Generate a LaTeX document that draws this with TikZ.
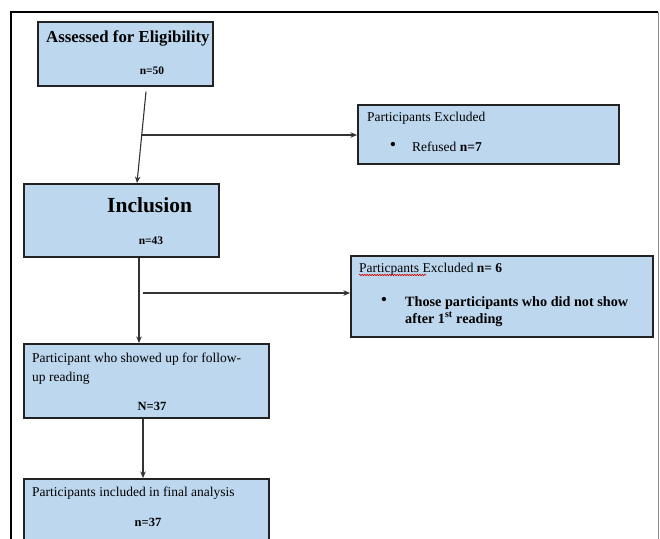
\documentclass[tikz,border=0pt]{standalone}
\usepackage{fontspec}
\setmainfont{Liberation Serif}
\usetikzlibrary{arrows.meta,calc,decorations.pathmorphing}
\definecolor{boxblue}{HTML}{BDD7EE}
\definecolor{boxline}{HTML}{222222}
\definecolor{arrline}{HTML}{333333}
\tikzset{
  box/.style={draw=boxline, line width=1.7pt, fill=boxblue, anchor=north west, inner sep=0pt},
  arr/.style={draw=arrline, line width=1.1pt, -{Stealth[length=6.5pt,width=5.5pt]}},
  txt/.style={anchor=base west, inner sep=0pt, text=black},
  ctxt/.style={anchor=base, inner sep=0pt, text=black},
  small/.style={font=\fontsize{13.5}{15}\selectfont},
  bul/.style={anchor=center, inner sep=0pt, text=black, font=\fontsize{18}{18}\selectfont},
  squiggle/.style={draw=red!80!black, line width=0.6pt, decorate, decoration={snake, amplitude=0.7pt, segment length=2.5pt}},
}
\begin{document}
\begin{tikzpicture}[x=1pt,y=-1pt]
\clip (0,0) rectangle (660,538);
\fill[white] (0,0) rectangle (660,538);
% outer frame
\draw[black, line width=1.8pt] (11,540) -- (11,12) -- (658,12);
\draw[black!45, line width=0.8pt] (658,12) -- (658,540);

% boxes
\node[box, minimum width=175pt, minimum height=64pt] (b1) at (37,21) {};
\node[box, minimum width=261pt, minimum height=59pt] (b2) at (357,104) {};
\node[box, minimum width=195pt, minimum height=73pt] (b3) at (23,183) {};
\node[box, minimum width=302pt, minimum height=81pt] (b5) at (350,255) {};
\node[box, minimum width=245pt, minimum height=74pt] (b4) at (23,343) {};
\node[box, minimum width=245pt, minimum height=80pt] (b6) at (23,478) {};

% texts
\node[txt, font=\bfseries\fontsize{16.8}{18}\selectfont] (t1) at (46,42) {Assessed for Eligibility};
\node[ctxt, font=\bfseries\fontsize{11.5}{12}\selectfont] (t1n) at (152,74) {n=50};

\node[txt, small] (t2) at (367,121) {Participants Excluded};
\node[bul] (t2b) at (393,146.5) {\textbullet};
\node[txt, small] (t2c) at (412,151) {Refused \textbf{n=7}};

\node[txt, font=\bfseries\fontsize{21.5}{23}\selectfont] (t3) at (107,212) {Inclusion};
\node[ctxt, font=\bfseries\fontsize{11.5}{12}\selectfont] (t3n) at (151,244) {n=43};

\node[txt, small] (t5) at (359,272) {Particpants Excluded \textbf{n= 6}};
\draw[squiggle] (359,275) -- (426,275);
\node[bul] (t5b) at (384,301.5) {\textbullet};
\node[txt, font=\bfseries\fontsize{14.2}{16}\selectfont] (t5c) at (405,306) {Those participants who did not show};
\node[txt, font=\bfseries\fontsize{14.2}{16}\selectfont] (t5d) at (405,323) {after 1\textsuperscript{st} reading};

\node[txt, small] (t4) at (32,362) {Participant who showed up for follow-};
\node[txt, small] (t4b) at (32,381) {up reading};
\node[ctxt, font=\bfseries\fontsize{12.5}{13}\selectfont] (t4n) at (152,410) {N=37};

\node[txt, small] (t6) at (32,496) {Participants included in final analysis};
\node[ctxt, font=\bfseries\fontsize{12.5}{13}\selectfont] (t6n) at (148,526) {n=37};

% connectors
\coordinate (s1) at ($(b1.south west)+(109,5)$);
\draw[arr] (s1) -- ($(b3.north west)+(114,0)$);
\coordinate (h1) at (141,135);
\draw[arr] (h1) -- (b2.west |- h1);

\draw[arr] ($(b3.south west)+(116,0)$) -- ($(b4.north west)+(116,0)$);
\coordinate (h2) at (143,293);
\draw[arr] (h2) -- (b5.west |- h2);

\draw[arr] ($(b4.south west)+(120,0)$) -- ($(b6.north west)+(120,0)$);
\end{tikzpicture}
\end{document}
